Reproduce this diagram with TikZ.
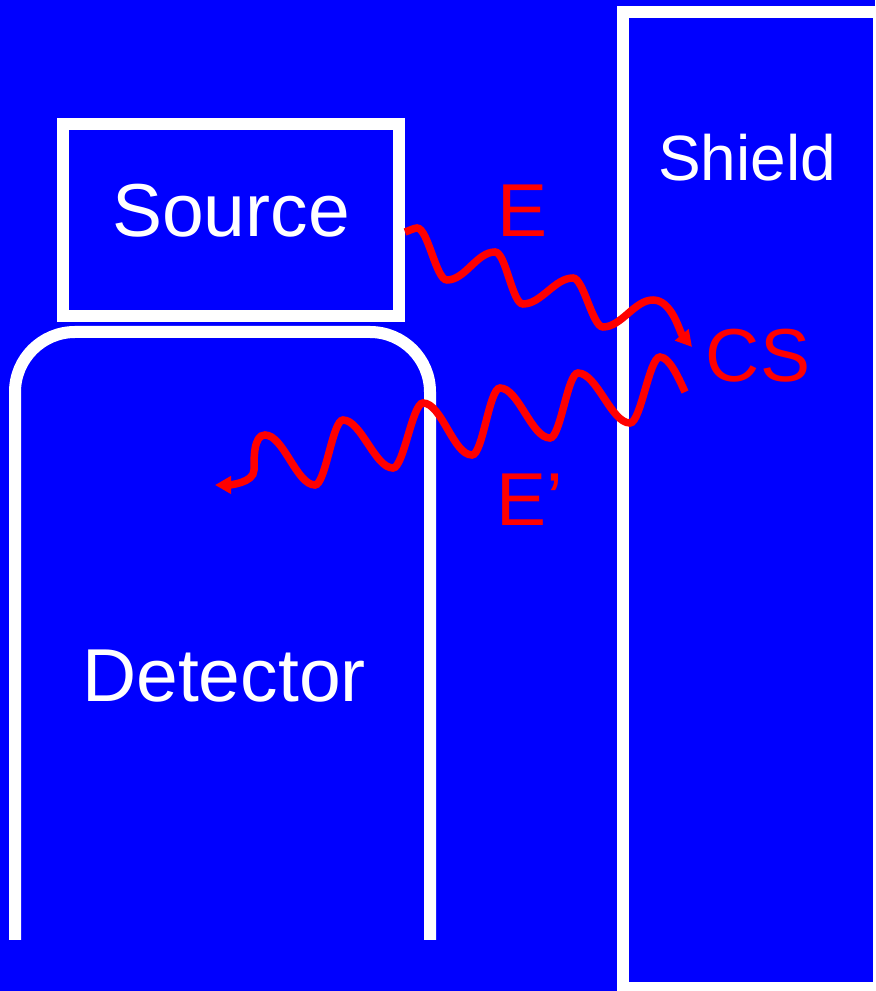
\documentclass[tikz,border=0pt]{standalone}
\usepackage{fontspec}
\setmainfont{Liberation Sans}
\usetikzlibrary{positioning,arrows.meta}

\tikzset{
    wall/.style={draw=white,line width=6pt},
    box/.style={rectangle,wall,text=white,minimum width=168pt,minimum height=96pt,
        font=\fontsize{37.5}{40}\selectfont},
    lbl/.style={anchor=base,inner sep=0pt,font=\fontsize{37.5}{40}\selectfont},
    photon/.style={draw=red,line width=3.75pt,-{Triangle[length=8pt,width=8.5pt]}},
    fall/.style={out=0,in=180,looseness=0.47},
    rise/.style={out=0,in=180,looseness=0.84},
    fallback/.style={out=180,in=0,looseness=0.38},
    riseback/.style={out=180,in=0,looseness=0.67}
}

\begin{document}
\begin{tikzpicture}[x=0.5pt,y=0.5pt]
            \useasboundingbox (0,0) rectangle (875,991);
            \clip (0,0) rectangle (875,991);
            \fill[blue] (0,0) rectangle (875,991);

            % shield and detector walls
            \draw[wall] (623,3) rectangle (879,979);
            \draw[wall,rounded corners=30pt] (15,51) -- (15,659) -- (430,659) -- (430,51);

            \node[box,text depth=10pt] (source) at (231,771) {Source};

            % gamma rays
            \coordinate (e1s) at ([yshift=-6pt]source.east);
            \coordinate (e1t) at (692,644);
            \coordinate (e2s) at (685,599);
            \coordinate (e2t) at (215,506);
            \draw[photon] (e1s) to[out=15,in=180,looseness=0.6] (417,763) to[fall] (447,711) to[rise] (495,739)
                to[fall] (523,687) to[rise] (573,713) to[fall] (603,664) to[rise] (653,691)
                to[out=0,in=130,looseness=0.8] (e1t);
            \draw[photon] (e2s) to[out=115,in=0,looseness=0.6] (660,634) to[fallback] (630,568) to[riseback] (578,618)
                to[fallback] (550,553) to[riseback] (500,603) to[fallback] (472,536) to[riseback] (423,588)
                to[fallback] (393,523) to[riseback] (343,571) to[fallback] (315,506) to[riseback] (265,556)
                to[out=180,in=90,looseness=0.8] (254,521) to[out=-90,in=0,looseness=0.8] (e2t);

            \node[lbl,text=white] (detector) at (224,289) {Detector};
            \node[lbl,text=white,font=\fontsize{32}{36}\selectfont] (shield) at (747,810) {Shield};
            \node[lbl,text=red] (energy) at (523,754) {E};
            \node[lbl,text=red] (scatter) at (758,609) {CS};
            \node[lbl,text=red] (energy2) at (530,465) {E’};
        \end{tikzpicture}
\end{document}
